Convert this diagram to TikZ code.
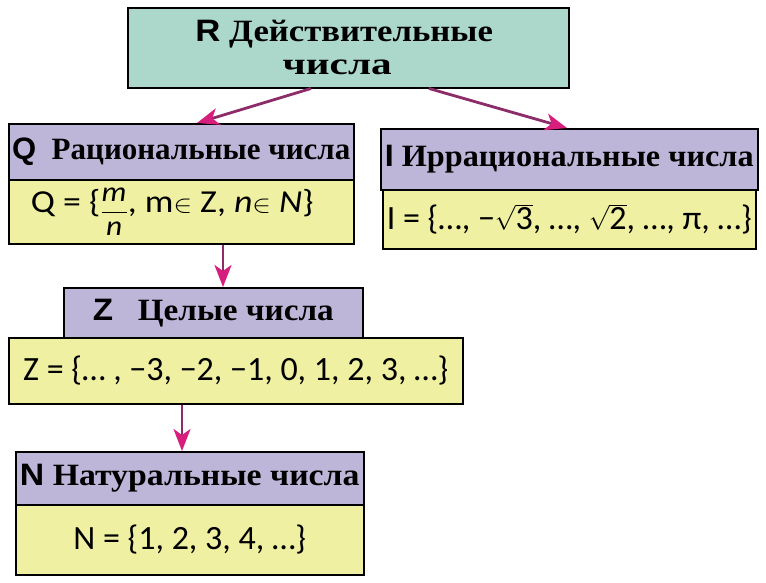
\documentclass[tikz,border=0pt]{standalone}
\usepackage{fontspec}
\usepackage{graphicx}
\setmainfont{Liberation Serif}
\newfontfamily\bodyfont{Carlito}
\newfontfamily\letterfont{Liberation Sans}
\usetikzlibrary{arrows.meta}
\definecolor{rfill}{RGB}{172,216,204}
\definecolor{hfill}{RGB}{190,182,216}
\definecolor{bfill}{RGB}{240,240,162}
\definecolor{arrcol}{RGB}{215,30,125}
\definecolor{shaftcol}{RGB}{140,45,105}
\tikzset{
  box/.style={draw=black, line width=1.5pt, inner sep=0pt, anchor=north west},
  hdr/.style={box, fill=hfill, font=\fontsize{31}{35}\selectfont\bfseries},
  bdy/.style={box, fill=bfill, font=\fontsize{34}{38}\selectfont\bodyfont},
  arr/.style={draw=shaftcol, line width=2.8pt, -{Stealth[length=22pt,width=17pt,inset=6pt,color=arrcol]}},
}
\newcommand{\Lt}[1]{{\letterfont\bfseries #1}}
\newcommand{\hx}[2]{\scalebox{#1}[1]{#2}}
\begin{document}
\begin{tikzpicture}[x=1pt,y=-1pt]
\useasboundingbox[fill=white] (0,0) rectangle (766,582);
% R
\node[box, fill=rfill, minimum width=441pt, minimum height=80pt, align=center,
  font=\fontsize{31}{33}\selectfont\bfseries] (r) at (127,7)
  {\hx{1.12}{\Lt{R} Действительные}\hspace*{8pt}\\\hx{1.33}{числа}\hspace*{22pt}};
% Q
\node[hdr, minimum width=345pt, minimum height=56pt] (qh) at (8,123) {\hx{1.0}{\Lt{Q}\ \ Рациональные числа}};
\node[bdy, minimum width=345pt, minimum height=64pt, font=\fontsize{32}{36}\selectfont\bodyfont] (qb) at (8,179)
  {\hx{1.12}{Q = \{\raisebox{-0.2em}{$\displaystyle\frac{\mbox{\fontsize{28}{28}\selectfont\itshape m}}{\mbox{\fontsize{28}{28}\selectfont\itshape n}}$}, m$\in$ Z, {\itshape n}$\in$ {\itshape N}\}}\hspace*{18pt}};
% I
\node[hdr, minimum width=377pt, minimum height=61pt] (ih) at (380,128) {\hx{1.04}{\Lt{I} Иррациональные числа}};
\node[bdy, minimum width=373pt, minimum height=59pt] (ib) at (382,189)
  {I = \{…, −$\sqrt{\mbox{3}}$, …, $\sqrt{\mbox{2}}$, …, π, …\}};
% Z
\node[hdr, minimum width=299pt, minimum height=50pt] (zh) at (63,287) {\hx{1.07}{\Lt{Z}\ \ \ Целые числа}};
\node[bdy, minimum width=454pt, minimum height=66pt] (zb) at (8,337)
  {Z = \{… , −3, −2, −1, 0, 1, 2, 3, …\}};
% N
\node[hdr, minimum width=348pt, minimum height=53pt] (nh) at (15,451) {\hx{1.09}{\Lt{N}\ Натуральные числа}};
\node[bdy, minimum width=348pt, minimum height=70pt] (nb) at (15,504)
  {N = \{1, 2, 3, 4, …\}};
% arrows
\draw[arr] ([xshift=184pt]r.south west) -- ([xshift=189pt]qh.north west);
\draw[arr] ([xshift=302pt]r.south west) -- ([xshift=187pt]ih.north west);
\draw[arr] ([xshift=215pt]qb.south west) -- ([xshift=160pt]zh.north west);
\draw[arr] ([xshift=174pt]zb.south west) -- ([xshift=167pt]nh.north west);
\end{tikzpicture}
\end{document}
